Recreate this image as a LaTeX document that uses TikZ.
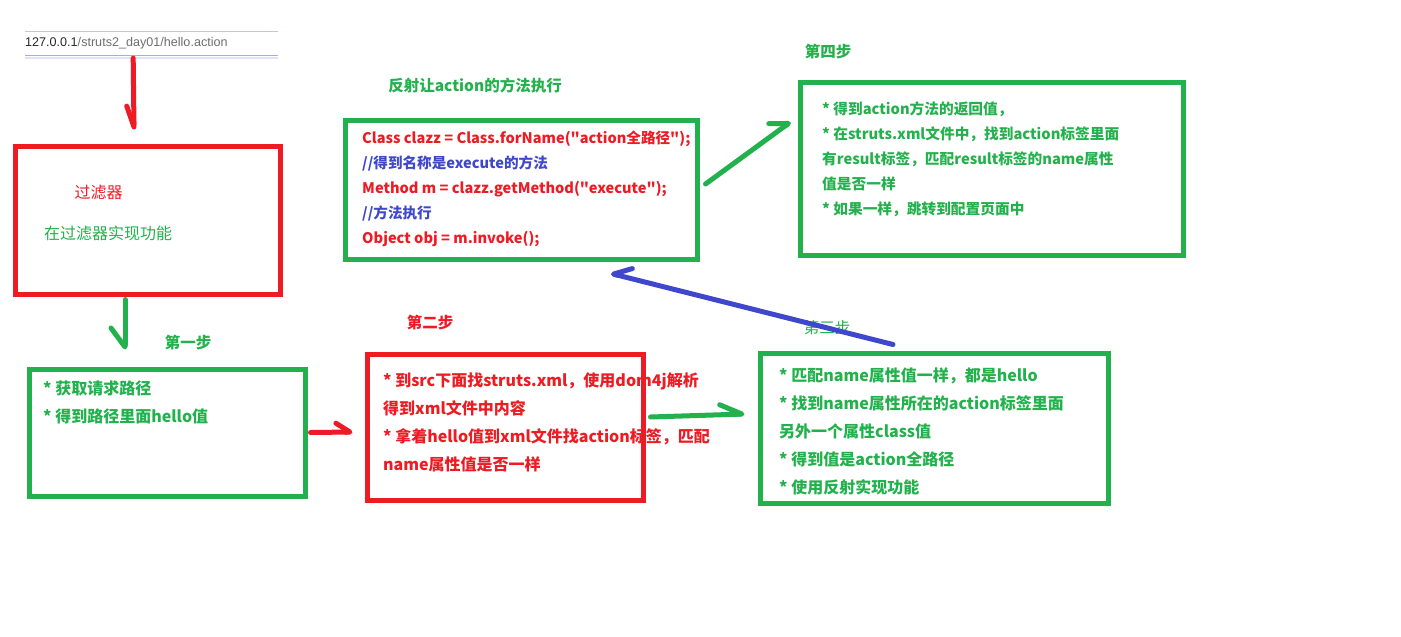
\documentclass[tikz,border=0pt]{standalone}
\usepackage{fontspec}
\setmainfont{Noto Sans CJK SC}
\newfontfamily\codefont{Noto Sans CJK SC}
\newfontfamily\urlfont{Liberation Sans}
\usepackage{tikz}
\usetikzlibrary{arrows.meta}
\definecolor{pred}{RGB}{237,28,36}
\definecolor{pgreen}{RGB}{34,177,76}
\definecolor{pblue}{RGB}{63,72,204}
\definecolor{urlgray}{RGB}{110,110,110}
\definecolor{barline}{RGB}{165,178,200}
\tikzset{
	box/.style={draw, line width=5pt, inner sep=0pt},
	redbox/.style={box, draw=pred},
	greenbox/.style={box, draw=pgreen},
	txt/.style={inner sep=0pt, align=left, font=\bfseries\fontsize{16pt}{28pt}\selectfont},
	code/.style={txt, font=\codefont\bfseries\fontsize{14.6pt}{25pt}\selectfont},
	steplabel/.style={inner sep=0pt, font=\bfseries\fontsize{15.5pt}{18pt}\selectfont},
	stroke/.style={line width=5pt, line cap=round, line join=round},
}
\begin{document}
\begin{tikzpicture}[x=1pt,y=-1pt]
		\useasboundingbox (0,0) rectangle (1401,637);
		\node[inner sep=0pt, text width=253pt, minimum height=23pt, align=left, font=\urlfont\fontsize{12.6pt}{14pt}\selectfont] (url) at (25,43.5) [anchor=west] {\textcolor{black!85}{127.0.0.1}\textcolor{urlgray}{/struts2\_day01/hello.action}};
		\draw[barline!70, line width=1pt] (url.north west) -- (url.north east);
		\draw[barline, line width=1pt] (url.south west) -- (url.south east);
		\draw[blue!12, line width=2pt] ([yshift=-2.5pt]url.south west) -- ([yshift=-2.5pt]url.south east);

		\node[inner sep=0pt, pred, font=\fontsize{16pt}{18pt}\selectfont] (filtername) at (98.5,192) {过滤器};
		\node[inner sep=0pt, pgreen, font=\fontsize{16pt}{18pt}\selectfont] (filterdo) at (44,233) [anchor=west] {在过滤器实现功能};
		\node[txt, pgreen] (step1txt) at (43,381) [anchor=north west] {* 获取请求路径\\* 得到路径里面hello值};
		\node[txt, pred] (step2txt) at (383,373) [anchor=north west] {* 到src下面找struts.xml，使用dom4j解析\\得到xml文件中内容\\* 拿着hello值到xml文件找action标签，匹配\\name属性值是否一样};
		\node[txt, pgreen] (step3txt) at (779,368) [anchor=north west] {* 匹配name属性值一样，都是hello\\* 找到name属性所在的action标签里面\\另外一个属性class值\\* 得到值是action全路径\\* 使用反射实现功能};
		\node[code, pred] (reflecttxt) at (362,131) [anchor=north west] {Class clazz = Class.forName("action全路径");\\\textcolor{pblue}{//得到名称是execute的方法}\\Method m = clazz.getMethod("execute");\\\textcolor{pblue}{//方法执行}\\Object obj = m.invoke();};
		\node[code, pgreen, font=\bfseries\fontsize{14.7pt}{25pt}\selectfont] (step4txt) at (822,101) [anchor=north west] {* 得到action方法的返回值，\\* 在struts.xml文件中，找到action标签里面\\有result标签，匹配result标签的name属性\\值是否一样\\* 如果一样，跳转到配置页面中};

		\node[redbox, minimum width=265pt, minimum height=148pt] (filter) at (147.5,220) {};
		\node[greenbox, minimum width=276pt, minimum height=127pt] (step1) at (167,432.5) {};
		\node[redbox, minimum width=276pt, minimum height=146pt] (step2) at (505,427) {};
		\node[greenbox, minimum width=348pt, minimum height=150pt] (step3) at (934,428) {};
		\node[greenbox, minimum width=352pt, minimum height=139pt] (reflect) at (521,189.5) {};
		\node[greenbox, minimum width=383pt, minimum height=173pt] (step4) at (991.5,168.5) {};

		\node[steplabel, pgreen] (first) at (188,343) {第一步};
		\node[steplabel, pred] (second) at (430,323) {第二步};
		\node[steplabel, pgreen, font=\fontsize{15.5pt}{18pt}\selectfont] (third) at (827,328) {第三步};
		\node[steplabel, pgreen] (fourth) at (828,52) {第四步};
		\node[steplabel, pgreen] (reflecttitle) at (475,86) {反射让action的方法执行};

		\draw[stroke, pred, -{Straight Barb[right, round, length=21pt, width=14pt]}] ([xshift=-18.5pt, yshift=-3pt]url.south) -- ([xshift=-13.5pt, yshift=14pt]filter.north);
		\draw[stroke, pgreen, -{Straight Barb[right, round, length=19pt, width=28pt]}] ([xshift=-22.5pt, yshift=-3pt]filter.south) -- ([xshift=-42pt, yshift=17pt]step1.north);
		\draw[stroke, pred, -{Straight Barb[left, round, length=14pt, width=18pt]}] ([xshift=3pt]step1.east) -- ([xshift=-12pt, yshift=-5pt]step2.west);
		\draw[stroke, pgreen, -{Straight Barb[left, round, length=22pt, width=20pt]}] ([xshift=5pt, yshift=10pt]step2.east) -- ([xshift=-13pt, yshift=14pt]step3.west);
		\draw[stroke, pblue, -{Straight Barb[right, round, length=17pt, width=20pt]}] ([xshift=-41pt, yshift=6pt]step3.north) -- ([xshift=90pt, yshift=-12pt]reflect.south);
		\draw[stroke, pgreen, -{Straight Barb[left, round, length=16pt, width=23pt]}] ([xshift=6pt, yshift=5.5pt]reflect.east) -- ([xshift=-7pt, yshift=46.5pt]step4.west);
		\end{tikzpicture}
\end{document}
